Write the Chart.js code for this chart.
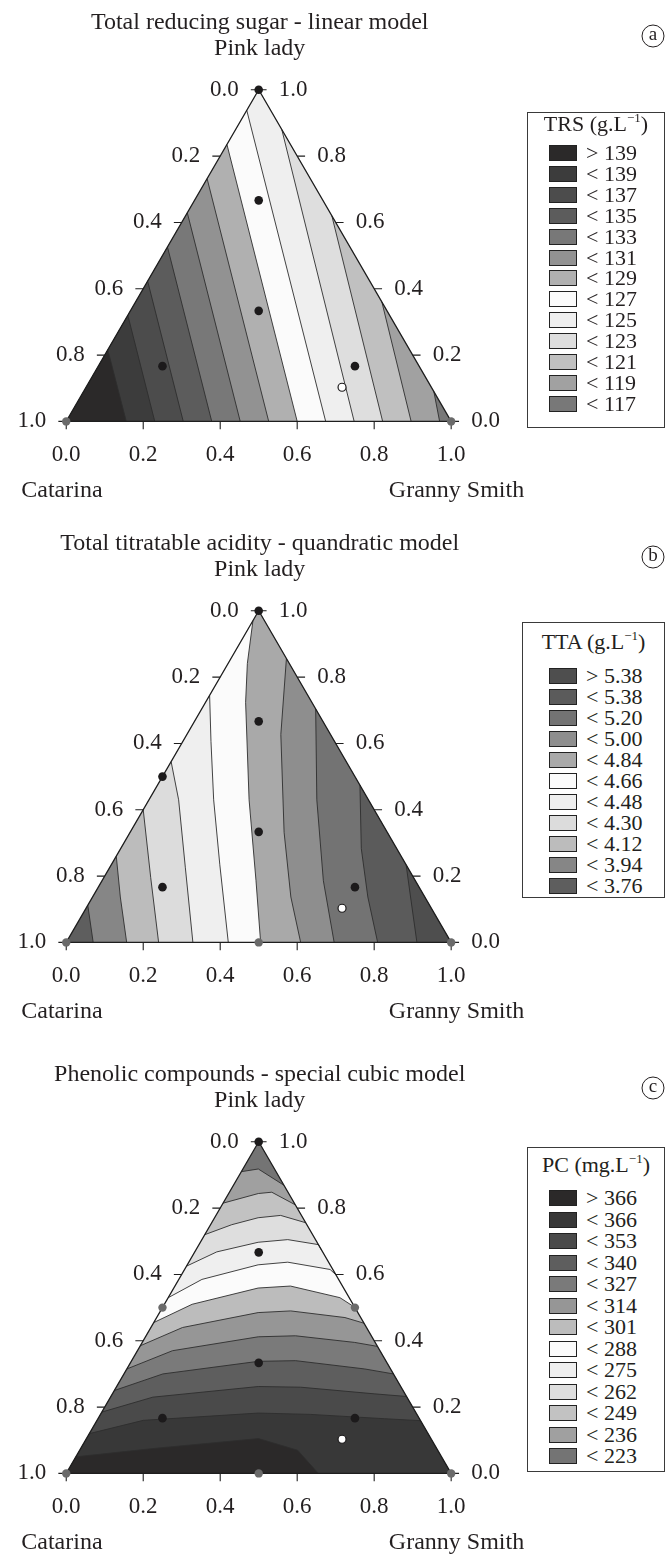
<!DOCTYPE html>
<html>
<head>
<meta charset="utf-8">
<script src="https://cdn.jsdelivr.net/npm/chart.js@4.4.1/dist/chart.umd.min.js"></script>
<style>
  body { margin: 0; background: #fff; width: 670px; height: 1555px; position: relative; overflow: hidden; font-family: "Liberation Serif", serif; color: #231f20; }
  canvas.tri { position: absolute; left: 0; }
  .legend { position: absolute; border: 1px solid #3a3a3a; box-sizing: border-box; background: #fff; }
  .legend .ttl { position: absolute; left: 0; right: 0; text-align: center; font-size: 22px; line-height: 22px; white-space: nowrap; }
  .legend .ttl sup { font-size: 13px; line-height: 0; vertical-align: 9px; }
  .legend .row { position: absolute; left: 0; right: 0; height: 20px; font-size: 22px; line-height: 20px; }
  .legend .sw { position: absolute; top: 2px; width: 28px; height: 16px; border: 1px solid #222; box-sizing: border-box; }
  .legend .lab { position: absolute; top: 0; white-space: nowrap; }
</style>
</head>
<body>
<canvas id="chartA" class="tri" width="670" height="503" style="top:0px"></canvas>
<canvas id="chartB" class="tri" width="670" height="503" style="top:521px"></canvas>
<canvas id="chartC" class="tri" width="670" height="503" style="top:1052px"></canvas>
<script>
// axis ticks, same on all three edges
const ticks = ["0.0", "0.2", "0.4", "0.6", "0.8", "1.0"];
const tickVals = [0, 0.2, 0.4, 0.6, 0.8, 1];

// contour lines: points are [Granny Smith, Pink lady] fractions (Catarina = rest)

// (a) total reducing sugar
const trsLevels = [139, 137, 135, 133, 131, 129, 127, 125, 123, 121, 119, 117];
const trsLabels = ["> 139", "< 139", "< 137", "< 135", "< 133", "< 131", "< 129", "< 127", "< 125", "< 123", "< 121", "< 119", "< 117"];
const trsColors = ["#2b2929", "#3c3c3c", "#4c4c4c", "#5c5c5c", "#787878", "#929292", "#b0b0b0", "#fbfbfb", "#efefef", "#dedede", "#c0c0c0", "#a1a1a1", "#787878"];
const trsLines = [
  [[0.156, 0], [0, 0.216]],
  [[0.230, 0], [0, 0.320]],
  [[0.304, 0], [0, 0.423]],
  [[0.378, 0], [0, 0.526]],
  [[0.452, 0], [0, 0.629]],
  [[0.526, 0], [0, 0.732]],
  [[0.600, 0], [0, 0.835]],
  [[0.674, 0], [0, 0.938]],
  [[0.748, 0], [0.12, 0.88]],
  [[0.822, 0], [0.38, 0.62]],
  [[0.896, 0], [0.64, 0.36]],
  [[0.970, 0], [0.91, 0.09]]
];

// (b) total titratable acidity
const ttaLevels = [5.38, 5.20, 5.00, 4.84, 4.66, 4.48, 4.30, 4.12, 3.94, 3.76];
const ttaLabels = ["> 5.38", "< 5.38", "< 5.20", "< 5.00", "< 4.84", "< 4.66", "< 4.48", "< 4.30", "< 4.12", "< 3.94", "< 3.76"];
const ttaColors = ["#4e4e4e", "#5b5b5b", "#737373", "#8e8e8e", "#a9a9a9", "#fbfbfb", "#efefef", "#dcdcdc", "#bcbcbc", "#868686", "#5e5e5e"];
const ttaLines = [
  [[0.766, 0.234], [0.826, 0.137], [0.911, 0]],
  [[0.526, 0.474], [0.625, 0.283], [0.715, 0.137], [0.809, 0]],
  [[0.296, 0.704], [0.436, 0.43], [0.575, 0.186], [0.696, 0]],
  [[0.144, 0.856], [0.244, 0.627], [0.40, 0.332], [0.515, 0.137], [0.609, 0]],
  [[0, 0.97], [0.05, 0.841], [0.104, 0.724], [0.26, 0.43], [0.40, 0.186], [0.505, 0]],
  [[0, 0.745], [0.073, 0.606], [0.168, 0.43], [0.282, 0.234], [0.421, 0]],
  [[0, 0.545], [0.077, 0.43], [0.197, 0.225], [0.329, 0]],
  [[0, 0.40], [0.122, 0.195], [0.240, 0]],
  [[0, 0.26], [0.072, 0.137], [0.157, 0]],
  [[0, 0.112], [0.070, 0]]
];

// (c) phenolic compounds
const pcLevels = [366, 353, 340, 327, 314, 301, 288, 275, 262, 249, 236, 223];
const pcLabels = ["> 366", "< 366", "< 353", "< 340", "< 327", "< 314", "< 301", "< 288", "< 275", "< 262", "< 249", "< 236", "< 223"];
const pcColors = ["#2b2929", "#383838", "#4a4a4a", "#5e5e5e", "#7a7a7a", "#969696", "#bcbcbc", "#fbfbfb", "#efefef", "#dedede", "#c2c2c2", "#a0a0a0", "#747474"];
const pcLines = [
  [[0, 0.05], [0.188, 0.075], [0.447, 0.105], [0.566, 0.07], [0.655, 0]],
  [[0, 0.12], [0.12, 0.16], [0.408, 0.182], [0.545, 0.178], [0.744, 0.165], [0.841, 0.159]],
  [[0, 0.185], [0.11, 0.23], [0.368, 0.262], [0.479, 0.26], [0.68, 0.24], [0.768, 0.232]],
  [[0, 0.25], [0.101, 0.30], [0.330, 0.338], [0.426, 0.34], [0.618, 0.315], [0.70, 0.30]],
  [[0, 0.315], [0.091, 0.37], [0.293, 0.412], [0.388, 0.415], [0.552, 0.395], [0.617, 0.383]],
  [[0, 0.385], [0.082, 0.44], [0.256, 0.485], [0.338, 0.49], [0.489, 0.47], [0.547, 0.453]],
  [[0, 0.455], [0.072, 0.51], [0.219, 0.559], [0.30, 0.565], [0.446, 0.53], [0.499, 0.501]],
  [[0, 0.53], [0.06, 0.585], [0.184, 0.629], [0.257, 0.637], [0.378, 0.615], [0.401, 0.599]],
  [[0, 0.625], [0.057, 0.668], [0.150, 0.697], [0.223, 0.705], [0.31, 0.69], [0.327, 0.673]],
  [[0, 0.72], [0.055, 0.75], [0.113, 0.771], [0.168, 0.778], [0.244, 0.756]],
  [[0, 0.815], [0.077, 0.844], [0.11, 0.848], [0.19, 0.81]],
  [[0, 0.91], [0.040, 0.918], [0.131, 0.869]]
];

// design points [Granny Smith, Pink lady]
const blackA = [[0, 1], [1 / 6, 2 / 3], [1 / 3, 1 / 3], [1 / 6, 1 / 6], [2 / 3, 1 / 6]];
const grayA = [[0, 0], [1, 0]];
const blackB = [[0, 1], [0, 0.5], [1 / 6, 2 / 3], [1 / 3, 1 / 3], [1 / 6, 1 / 6], [2 / 3, 1 / 6]];
const grayB = [[0, 0], [1, 0], [0.5, 0]];
const blackC = [[0, 1], [1 / 6, 2 / 3], [1 / 3, 1 / 3], [1 / 6, 1 / 6], [2 / 3, 1 / 6]];
const grayC = [[0, 0], [1, 0], [0.5, 0], [0, 0.5], [0.5, 0.5]];
const openPts = [[0.665, 0.103]];

const R3 = Math.sqrt(3) / 2;
const corners = [[0, 0], [1, 0], [0, 1]]; // Catarina, Granny Smith, Pink lady
const toXY = ([g, p]) => ({ x: g + p / 2, y: p * R3 });

// position of a boundary point along the perimeter C -> G -> P -> C
function perim([g, p]) {
  if (p < 0.01) return g;
  if (1 - g - p < 0.01) return 1 + p;
  return 3 - p;
}
// region on the left of a line, closed along the triangle edges
function leftRegion(line) {
  const s0 = perim(line[0]);
  const s1 = perim(line[line.length - 1]);
  const stop = s0 <= s1 ? s0 + 3 : s0;
  const pts = line.slice();
  const used = [];
  for (let k = Math.floor(s1) + 1; k < stop; k++) { pts.push(corners[k % 3]); used.push(k % 3); }
  pts.push(line[0]);
  return { pts, used };
}
// region above a level: the side holding the highest corner
function upperRegion(line, peak) {
  let r = leftRegion(line);
  if (!r.used.includes(peak)) r = leftRegion(line.slice().reverse());
  return r.pts.map(toXY);
}

const TL = 8 / 391; // tick length in data units
function tickMarks() {
  const out = [];
  const gap = { x: NaN, y: NaN };
  tickVals.forEach(v => {
    const b = toXY([v, 0]); out.push(b, { x: b.x, y: b.y - TL }, gap);
    const l = toXY([0, 1 - v]); out.push(l, { x: l.x - TL, y: l.y }, gap);
    const r = toXY([1 - v, v]); out.push(r, { x: r.x + TL, y: r.y }, gap);
  });
  return out;
}

const decor = {
  id: "decor",
  afterDraw(chart, args, o) {
    const { ctx, scales: { x, y } } = chart;
    const px = (g, p) => [x.getPixelForValue(g + p / 2), y.getPixelForValue(p * R3)];
    ctx.save();
    ctx.fillStyle = "#231f20";
    ctx.strokeStyle = "#231f20";
    ctx.font = '23px "Liberation Serif"';
    ctx.textBaseline = "middle";
    ctx.textAlign = "center";
    tickVals.forEach((v, i) => { const [X, Y] = px(v, 0); ctx.fillText(ticks[i], X, Y + 34); });
    ctx.textAlign = "right";
    tickVals.forEach((v, i) => { const [X, Y] = px(0, 1 - v); ctx.fillText(ticks[i], X - 20, Y); });
    ctx.textAlign = "left";
    tickVals.forEach((v, i) => { const [X, Y] = px(1 - v, v); ctx.fillText(ticks[i], X + 20, Y); });
    ctx.font = '24px "Liberation Serif"';
    const [xl, yb] = px(0, 0);
    const [xr] = px(1, 0);
    ctx.fillText("Catarina", xl - 45, yb + 69);
    ctx.textAlign = "right";
    ctx.fillText("Granny Smith", xr + 73, yb + 69);
    const [xt, yt] = px(0, 1);
    ctx.textAlign = "center";
    ctx.fillText(o.title, xt + 1, yt - 67);
    ctx.fillText("Pink lady", xt + 1, yt - 41);
    ctx.lineWidth = 1;
    ctx.beginPath();
    ctx.arc(653, 36, 11, 0, Math.PI * 2);
    ctx.stroke();
    ctx.font = '19px "Liberation Serif"';
    ctx.fillText(o.letter, 653, 35);
    ctx.restore();
  }
};

function fillSet(poly, color) {
  return { data: poly, showLine: true, fill: "shape", backgroundColor: color, borderColor: "rgba(0,0,0,0)", borderWidth: 0, pointRadius: 0 };
}

function buildChart(id, cfg) {
  const n = cfg.levels.length;
  const tri = [[0, 0], [1, 0], [0, 1], [0, 0]].map(toXY);
  const sets = [fillSet(tri, cfg.colors[n])];
  for (let i = n - 1; i >= 0; i--) sets.push(fillSet(upperRegion(cfg.lines[i], cfg.peak), cfg.colors[i]));
  cfg.lines.forEach(l => sets.push({ data: l.map(toXY), showLine: true, fill: false, borderColor: "#2e2e2e", borderWidth: 0.9, pointRadius: 0 }));
  sets.push({ data: tri, showLine: true, fill: false, borderColor: "#1e1e1e", borderWidth: 1.3, pointRadius: 0 });
  sets.push({ data: tickMarks(), showLine: true, fill: false, borderColor: "#1e1e1e", borderWidth: 1.1, pointRadius: 0 });
  sets.push({ data: cfg.gray.map(toXY), pointRadius: 4.2, pointBackgroundColor: "#6a6a6a", pointBorderColor: "#6a6a6a", pointBorderWidth: 0 });
  sets.push({ data: cfg.black.map(toXY), pointRadius: 4.3, pointBackgroundColor: "#1c1a1b", pointBorderColor: "#1c1a1b", pointBorderWidth: 0 });
  sets.push({ data: openPts.map(toXY), pointRadius: 4, pointBackgroundColor: "#ffffff", pointBorderColor: "#1c1a1b", pointBorderWidth: 1.2 });
  sets.forEach((d, i) => { d.order = sets.length - i; });

  new Chart(document.getElementById(id), {
    type: "scatter",
    data: { datasets: sets },
    options: {
      responsive: false,
      animation: false,
      events: [],
      layout: { padding: 0 },
      scales: {
        x: { display: false, min: -62 / 391, max: 608 / 391 },
        y: { display: false, min: -78 / 391, max: 425 / 391 }
      },
      plugins: {
        legend: { display: false },
        tooltip: { enabled: false },
        decor: { title: cfg.title, letter: cfg.letter }
      }
    },
    plugins: [decor]
  });
}

function buildLegend(pos, title, labels, colors) {
  const box = document.createElement("div");
  box.className = "legend";
  Object.assign(box.style, { left: pos.left + "px", top: pos.top + "px", width: pos.w + "px", height: pos.h + "px" });
  let html = '<div class="ttl" style="top:' + (pos.titleY - pos.top - 12) + 'px">' + title + "</div>";
  labels.forEach((lab, i) => {
    const cy = pos.first + i * pos.gap - pos.top - 1;
    html += '<div class="row" style="top:' + (cy - 10) + 'px">' +
      '<span class="sw" style="left:' + pos.sw + 'px;background:' + colors[i] + '"></span>' +
      '<span class="lab" style="left:' + pos.tx + 'px">' + lab + "</span></div>";
  });
  box.innerHTML = html;
  document.body.appendChild(box);
}

buildChart("chartA", { levels: trsLevels, colors: trsColors, lines: trsLines, peak: 0, black: blackA, gray: grayA, title: "Total reducing sugar - linear model", letter: "a" });
buildChart("chartB", { levels: ttaLevels, colors: ttaColors, lines: ttaLines, peak: 1, black: blackB, gray: grayB, title: "Total titratable acidity - quandratic model", letter: "b" });
buildChart("chartC", { levels: pcLevels, colors: pcColors, lines: pcLines, peak: 0, black: blackC, gray: grayC, title: "Phenolic compounds - special cubic model", letter: "c" });

buildLegend({ left: 527, top: 112, w: 138, h: 316, titleY: 124, first: 153, gap: 20.9, sw: 21, tx: 58 }, "TRS (g.L<sup>−1</sup>)", trsLabels, trsColors);
buildLegend({ left: 522, top: 622, w: 143, h: 276, titleY: 642, first: 676, gap: 21, sw: 26, tx: 63 }, "TTA (g.L<sup>−1</sup>)", ttaLabels, ttaColors);
buildLegend({ left: 527, top: 1147, w: 138, h: 325, titleY: 1165, first: 1198, gap: 21.5, sw: 21, tx: 58 }, "PC (mg.L<sup>−1</sup>)", pcLabels, pcColors);
</script>
</body>
</html>
